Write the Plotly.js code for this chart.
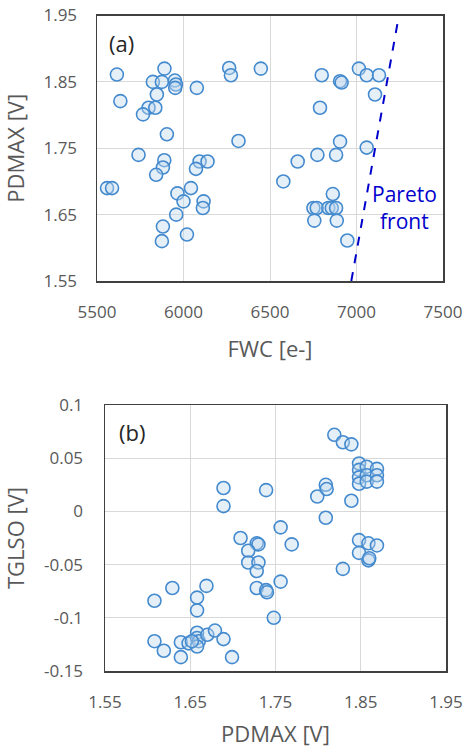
<!DOCTYPE html>
<html><head><meta charset="utf-8">
<script src="https://cdn.plot.ly/plotly-3.0.1.min.js"></script>
<style>html,body{margin:0;padding:0;background:#fff}#chart{width:464px;height:748px}</style>
</head><body><div id="chart"></div>
<script>
// (a) FWC vs PDMAX
const fwcA = [5615,5890,5823,5875,5950,5956,5952,5846,5635,5798,5837,5766,6077,6264,6274,6447,5904,6318,
  6799,6905,6914,7014,7059,7130,7107,6789,6905,7059,6660,6774,6882,6577,6863,
  6751,6770,6837,6857,6882,6756,6886,6947,
  5740,5889,5881,5842,6093,6139,6072,5558,5587,6043,5965,6000,6116,6112,5958,5881,5875,6020];
const pdmaxA = [1.861,1.870,1.850,1.850,1.852,1.846,1.841,1.831,1.821,1.811,1.811,1.801,1.841,1.871,1.860,1.870,1.771,1.761,
  1.860,1.851,1.849,1.870,1.860,1.860,1.831,1.811,1.760,1.751,1.730,1.740,1.740,1.700,1.681,
  1.660,1.660,1.660,1.660,1.660,1.641,1.641,1.611,
  1.740,1.732,1.721,1.710,1.730,1.730,1.719,1.690,1.690,1.690,1.682,1.670,1.670,1.660,1.650,1.632,1.610,1.620];
const paretoFWC = [6970, 7245];
const paretoPD = [1.55, 1.95];

// (b) PDMAX vs TGLSO
const pdmaxB = [1.689,1.689,1.739,1.819,1.829,1.839,
  1.848,1.848,1.848,1.848,1.857,1.857,1.857,1.869,1.869,1.869,
  1.809,1.810,1.799,1.839,1.809,
  1.709,1.728,1.730,1.718,1.718,1.730,1.728,1.728,1.739,1.740,1.756,1.756,1.748,1.769,
  1.848,1.859,1.869,1.848,1.859,1.860,1.829,
  1.629,1.608,1.669,1.658,1.658,1.608,1.619,1.639,1.648,1.658,1.658,1.660,1.658,1.670,1.679,1.689,1.639,1.699,1.652];
const tglsoB = [0.022,0.005,0.020,0.072,0.065,0.063,
  0.045,0.039,0.032,0.026,0.042,0.034,0.028,0.040,0.034,0.028,
  0.025,0.021,0.014,0.010,-0.006,
  -0.025,-0.030,-0.031,-0.037,-0.048,-0.048,-0.056,-0.072,-0.074,-0.076,-0.015,-0.066,-0.100,-0.031,
  -0.027,-0.030,-0.032,-0.039,-0.046,-0.044,-0.054,
  -0.072,-0.084,-0.070,-0.081,-0.093,-0.122,-0.131,-0.123,-0.124,-0.114,-0.119,-0.122,-0.127,-0.116,-0.112,-0.120,-0.137,-0.137,-0.122];

const xTicksA = [5500,6000,6500,7000,7500];
const yTicksA = [1.55,1.65,1.75,1.85,1.95];
const xTicksB = [1.55,1.65,1.75,1.85,1.95];
const yTickValsB = [-0.15,-0.1,-0.05,0,0.05,0.1];
const yTickTextB = ['-0.15','-0.1','-0.05','0','0.05','0.1'];

const marker = {symbol:'circle', size:13, color:'rgba(189,215,238,0.4)', line:{color:'rgb(68,138,206)', width:1.6}};
const FONT = '"Open Sans", "Noto Sans", sans-serif';
const GRAY = '#595959';

const traces = [
  {x:fwcA, y:pdmaxA, type:'scatter', mode:'markers', marker:marker, xaxis:'x', yaxis:'y', hoverinfo:'x+y'},
  {x:paretoFWC, y:paretoPD, type:'scatter', mode:'lines', line:{color:'#0000CC', width:2, dash:'dash'}, xaxis:'x', yaxis:'y'},
  {x:pdmaxB, y:tglsoB, type:'scatter', mode:'markers', marker:marker, xaxis:'x2', yaxis:'y2', hoverinfo:'x+y'}
];

function ax(extra){
  return Object.assign({
    showgrid:true, gridcolor:'#d9d9d9', gridwidth:1,
    zeroline:false, showline:true, linecolor:'#404040', linewidth:1.5, mirror:true,
    ticks:'outside', tickcolor:'rgba(0,0,0,0)',
    tickfont:{family:FONT, size:17, color:GRAY},
    automargin:false, fixedrange:true
  }, extra);
}

const layout = {
  width:464, height:748,
  margin:{l:0, r:0, t:0, b:0},
  paper_bgcolor:'#fff', plot_bgcolor:'#fff',
  showlegend:false,
  font:{family:FONT, color:GRAY},
  xaxis: ax({domain:[97/464, 443/464], range:[5500,7500], tickvals:xTicksA, ticklen:15, anchor:'y',
    title:{text:'FWC [e-]', font:{family:FONT, size:22, color:GRAY}, standoff:19}}),
  yaxis: ax({domain:[1-281/748, 1-15.5/748], range:[1.55,1.95], tickvals:yTicksA, ticklen:15, anchor:'x',
    tickformat:'.2f',
    title:{text:'PDMAX [V]', font:{family:FONT, size:22, color:GRAY}, standoff:14}}),
  xaxis2: ax({domain:[105/464, 446/464], range:[1.55,1.95], tickvals:xTicksB, ticklen:15, anchor:'y2',
    tickformat:'.2f',
    title:{text:'PDMAX [V]', font:{family:FONT, size:22, color:GRAY}, standoff:19}}),
  yaxis2: ax({domain:[1-671/748, 1-405/748], range:[-0.15,0.1], tickvals:yTickValsB, ticktext:yTickTextB, ticklen:17, anchor:'x2',
    title:{text:'TGLSO [V]', font:{family:FONT, size:22, color:GRAY}, standoff:14}}),
  annotations:[
    {text:'(a)', xref:'paper', yref:'paper', x:107/464, y:1-43/748, xanchor:'left', yanchor:'middle', showarrow:false,
      font:{family:FONT, size:22, color:'#262626'}},
    {text:'(b)', xref:'paper', yref:'paper', x:117/464, y:1-432/748, xanchor:'left', yanchor:'middle', showarrow:false,
      font:{family:FONT, size:22, color:'#262626'}},
    {text:'Pareto', xref:'paper', yref:'paper', x:404/464, y:1-194/748, xanchor:'center', yanchor:'middle', showarrow:false,
      font:{family:FONT, size:21, color:'#0000CC'}},
    {text:'front', xref:'paper', yref:'paper', x:404/464, y:1-221/748, xanchor:'center', yanchor:'middle', showarrow:false,
      font:{family:FONT, size:21, color:'#0000CC'}}
  ]
};

Plotly.newPlot('chart', traces, layout, {staticPlot:true, displayModeBar:false});
</script>
</body></html>
